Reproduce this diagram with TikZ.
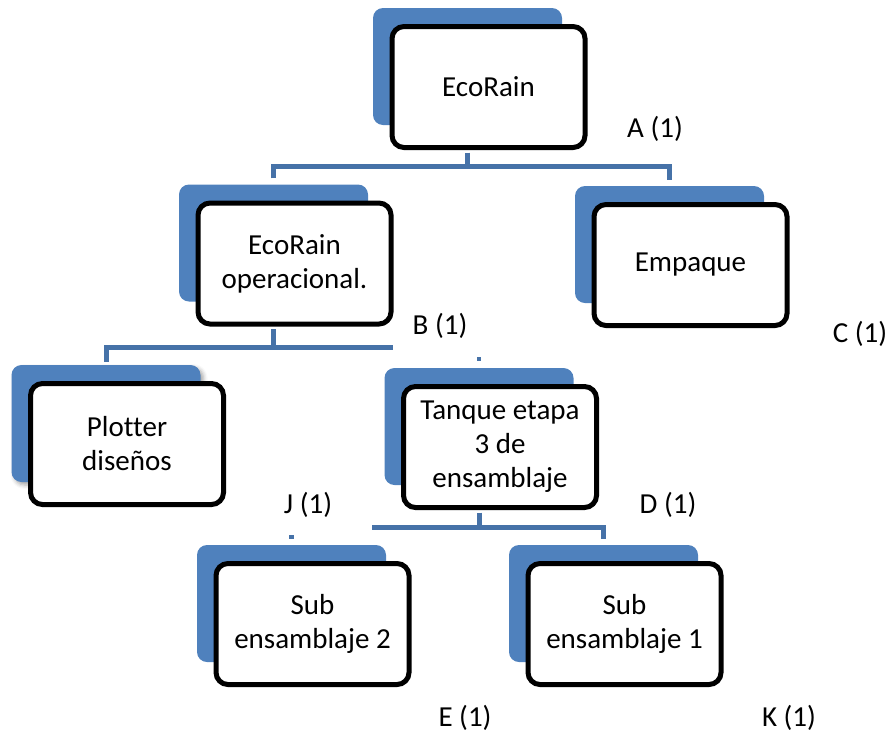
\documentclass[tikz,border=0pt]{standalone}
\usepackage{fontspec}
\setmainfont{Carlito}[Ligatures=NoCommon]
\usetikzlibrary{shadows.blur}
\definecolor{smartblue}{RGB}{79,129,189}
\definecolor{linkblue}{RGB}{70,114,168}

\begin{document}
\begin{tikzpicture}[x=1pt,y=-1pt,
    bgbox/.style={fill=smartblue, rounded corners=10pt, minimum width=189pt, minimum height=117pt, inner sep=0pt},
    box/.style={draw=black, line width=5pt, fill=white, rounded corners=12pt, minimum width=193pt, minimum height=121pt, inner sep=0pt, align=center, font=\fontsize{29}{34}\selectfont},
    link/.style={draw=linkblue, line width=5pt},
    dot/.style={fill=linkblue, inner sep=0pt, minimum size=4.5pt},
    qty/.style={inner sep=0pt, font=\fontsize{29}{34}\selectfont}]
            \useasboundingbox (0,0) rectangle (890,734);

            % Root node
            \node[bgbox] (ecorain-bg) at (467.5,66.5) {};
            \node[box] (ecorain) at ([shift={(21,20.5)}]ecorain-bg) {EcoRain};
            \node[qty] (a-lbl) at (655,129) {A (1)};

            % Second stage nodes
            \node[bgbox] (operacional-bg) at (273.5,243) {};
            \node[box] (operacional) at ([shift={(21,20.5)}]operacional-bg) {EcoRain\\operacional.};
            \node[qty] (b-lbl) at (440,326) {B (1)};

            \node[bgbox] (empaque-bg) at (669.5,244.5) {};
            \node[box] (empaque) at ([shift={(21,20.5)}]empaque-bg) {Empaque};
            \node[qty] (c-lbl) at (860,334) {C (1)};

            \draw[link, shorten <=2.5pt] (ecorain.south -| ecorain-bg) -- ++(0,16.5) coordinate (j1);
            \draw[link, shorten <=6pt, shorten >=6pt] (operacional-bg.north) |- (j1) -| (empaque-bg.north);

            % Third stage nodes
            \node[bgbox, blur shadow={shadow xshift=3pt, shadow yshift=-3pt, shadow blur radius=4pt, shadow opacity=35}] (plotter-bg) at (106,423.5) {};
            \node[box] (plotter) at ([shift={(21,20.5)}]plotter-bg) {Plotter\\diseños};
            \node[qty] (j-lbl) at (308,505) {J (1)};

            \node[bgbox] (tanque-bg) at (479,426.5) {};
            \node[box] (tanque) at ([shift={(21,20.5)}]tanque-bg) {Tanque etapa\\3 de\\ensamblaje};
            \node[qty] (d-lbl) at (668,505) {D (1)};

            \draw[link, shorten <=2.5pt] (operacional.south -| operacional-bg) -- ++(0,21) coordinate (j2);
            \draw[link, shorten <=3pt] (plotter-bg.north) |- (j2) -- ++(119.5,0);
            \node[dot] (tanque-dot) at ([shift={(0,-9)}]tanque-bg.north) {};

            % Fourth stage nodes
            \node[bgbox] (sub2-bg) at (291.5,603.5) {};
            \node[box] (sub2) at ([shift={(21,20.5)}]sub2-bg) {Sub\\ensamblaje 2};
            \node[qty] (e-lbl) at (465,718) {E (1)};

            \node[bgbox] (sub1-bg) at (603.5,603.5) {};
            \node[box] (sub1) at ([shift={(21,20.5)}]sub1-bg) {Sub\\ensamblaje 1};
            \node[qty] (k-lbl) at (789,718) {K (1)};

            \draw[link, shorten <=2.5pt] (tanque.south -| tanque-bg) -- ++(0,17) coordinate (j3);
            \draw[link, shorten <=6pt] (sub1-bg.north) |- (j3) -- ++(-107,0);
            \node[dot] (sub2-dot) at ([shift={(0,-8)}]sub2-bg.north) {};
        \end{tikzpicture}
\end{document}
